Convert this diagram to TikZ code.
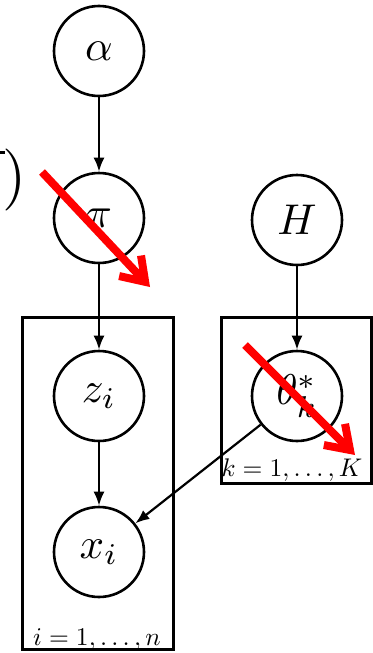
\documentclass[tikz,border=0pt]{standalone}
\usepackage{graphicx}
\usetikzlibrary{arrows.meta}
\newcommand{\bigtxt}[1]{\scalebox{4.3}{#1}}
\newcommand{\labtxt}[1]{\scalebox{2.55}{#1}}
\begin{document}
\begin{tikzpicture}[x=1pt,y=-1pt,
  var/.style={circle,draw,line width=2.6pt,minimum size=90pt,inner sep=0pt},
  plate/.style={draw,line width=3pt},
  edge/.style={line width=2.2pt,-{Latex[length=14pt,width=11pt]}},
  redarrow/.style={red,line width=8pt,-{Straight Barb[length=22pt,width=30pt]}},
  platelabel/.style={inner sep=0pt,anchor=base}]
\useasboundingbox (0,0) rectangle (372,653);
% plates
\draw[plate] (22,317) rectangle (173,649);
\draw[plate] (221,317) rectangle (371,483);
\node[platelabel] (lab1) at (97,645) {\labtxt{$i=1,\ldots,n$}};
\node[platelabel] (lab2) at (292,476) {\labtxt{$k=1,\ldots,K$}};
% variables
\node[var] (alpha) at (99,51) {\bigtxt{$\alpha$}};
\node[var] (pi) at (99,218) {\bigtxt{$\pi$}};
\node[var] (H) at (297,220) {\bigtxt{$H$}};
\node[var] (z) at (99,396) {\bigtxt{$z_i$}};
\node[var] (theta) at (297,396) {\bigtxt{$\theta^*_k$}};
\node[var] (x) at (99,552) {\bigtxt{$x_i$}};
% edges
\draw[edge] (alpha) -- (pi);
\draw[edge] (pi) -- (z);
\draw[edge] (H) -- (theta);
\draw[edge] (z) -- (x);
\draw[edge] (theta) -- (x);
% cut-off fragment at the left edge
\node[inner sep=0pt] (paren) at (15,180) {\scalebox{6.2}{)}};
\draw[line width=3pt] (0,152) -- (5,152);
% red annotation arrows
\coordinate (r1s) at (42,172);
\coordinate (r1e) at (150,287);
\coordinate (r2s) at (245,345);
\coordinate (r2e) at (355,455);
\draw[redarrow] (r1s) -- (r1e);
\draw[redarrow] (r2s) -- (r2e);
\end{tikzpicture}
\end{document}
